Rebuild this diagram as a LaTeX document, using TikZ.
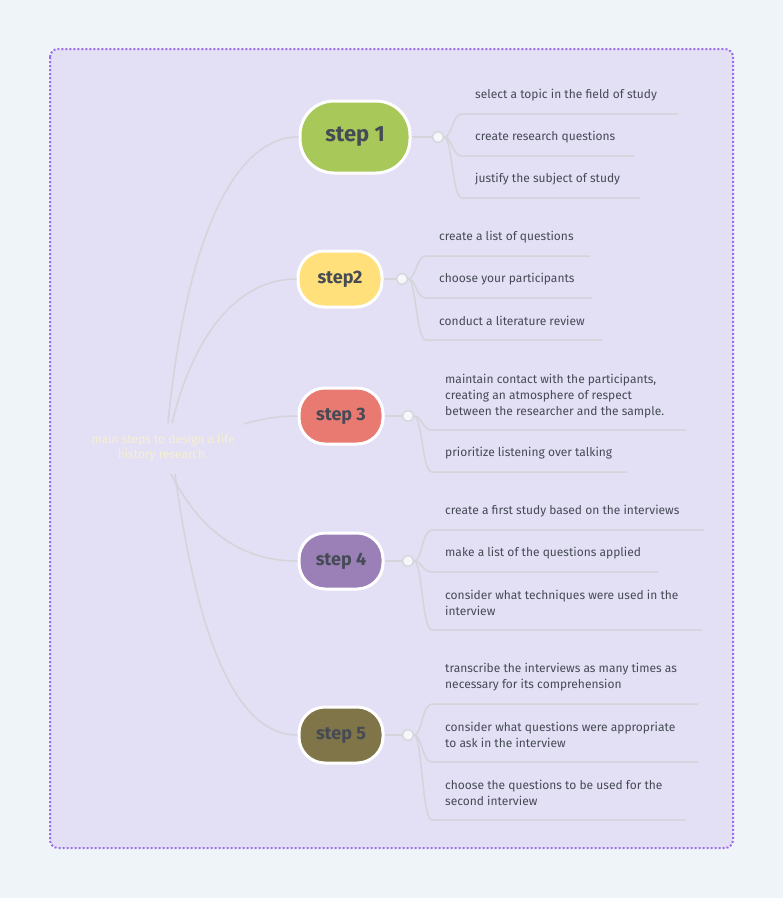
\documentclass[tikz,border=0pt]{standalone}
\usepackage{fontspec}
\setmainfont{Fira Sans}
\definecolor{pagebg}{HTML}{EFF4F8}
\definecolor{framebg}{HTML}{E3DFF5}
\definecolor{framedot}{HTML}{9C6FE8}
\definecolor{linec}{HTML}{D3D5DA}
\definecolor{txt}{HTML}{454A55}
\definecolor{cA}{HTML}{A8C95A}
\definecolor{cB}{HTML}{FFE07A}
\definecolor{cC}{HTML}{E87A72}
\definecolor{cD}{HTML}{9B80B8}
\definecolor{cE}{HTML}{7F7548}
\definecolor{roottxt}{HTML}{F6F0D2}
\begin{document}
\begin{tikzpicture}[x=1pt,y=-1pt,
  stepbox/.style={draw=white,line width=3pt,rounded corners=26pt,text=txt,font=\bfseries\fontsize{18}{20}\selectfont,minimum width=84pt,minimum height=56pt,inner sep=0pt},
  leaf/.style={anchor=west,text=txt,font=\fontsize{12}{16}\selectfont,inner sep=0pt,align=left},
  conn/.style={draw=linec,line width=1.5pt},
  knob/.style={circle,draw=linec,fill=pagebg!60!white,line width=1.3pt,minimum size=11pt,inner sep=0pt}]
\fill[pagebg] (0,0) rectangle (783,898);
\useasboundingbox (0,0) rectangle (783,898);
\draw[framedot,fill=framebg,line width=2pt,dotted,rounded corners=8pt] (50,49) rectangle (733,848);
\node[text=roottxt,font=\fontsize{12}{15}\selectfont,align=center] (root) at (163,448) {main steps to design a life\\history research.};
\coordinate (ru1) at (168,423);\coordinate (ru2) at (172,423);
\coordinate (rd1) at (171,474);\coordinate (rd2) at (175,474);\coordinate (rm) at (244,424);
\node[stepbox,fill=cA,minimum width=110pt,minimum height=72pt,rounded corners=34pt,font=\bfseries\fontsize{22}{24}\selectfont] (s1) at (355,137) {step 1};
\node[stepbox,fill=cB] (s2) at (340,279) {step2};
\node[stepbox,fill=cC] (s3) at (341,416) {step 3};
\node[stepbox,fill=cD] (s4) at (341,561) {step 4};
\node[stepbox,fill=cE] (s5) at (341,735) {step 5};
\draw[conn] (ru1) .. controls (185,250) and (230,137) .. (s1.west);
\draw[conn] (ru2) .. controls (195,330) and (240,279) .. (s2.west);
\draw[conn] (rm) .. controls (265,418) and (280,416) .. (s3.west);
\draw[conn] (rd1) .. controls (205,540) and (250,561) .. (s4.west);
\draw[conn] (rd2) .. controls (195,620) and (230,735) .. (s5.west);
% knobs
\node[knob] (k1) at (438,137) {};
\node[knob] (k2) at (402,279) {};
\node[knob] (k3) at (408,416) {};
\node[knob] (k4) at (408,561) {};
\node[knob] (k5) at (408,735) {};
\draw[conn] (s1.east) -- (k1);\draw[conn] (s2.east) -- (k2);\draw[conn] (s3.east) -- (k3);
\draw[conn] (s4.east) -- (k4);\draw[conn] (s5.east) -- (k5);
% leaves: knob, name, text x, text y, underline y, right end, text
\newcommand{\leafitem}[7]{%
  \node[leaf] (#2) at (#3,#4) {#7};
  \coordinate (#2a) at (#3+5-18,#5);\coordinate (#2b) at (#6,#5);
  \draw[conn] (#1.east) .. controls ([xshift=8pt]#1.east |- #1) and ([xshift=-10pt]#2a) .. (#2a) -- (#2b);}
\leafitem{k1}{a1}{475}{95}{114}{678}{select a topic in the field of study}
\leafitem{k1}{a2}{475}{137}{156}{634}{create research questions}
\leafitem{k1}{a3}{475}{179}{198}{640}{justify the subject of study}
\leafitem{k2}{b1}{439}{237}{256}{590}{create a list of questions}
\leafitem{k2}{b2}{439}{279}{298}{592}{choose your participants}
\leafitem{k2}{b3}{439}{321}{340}{602}{conduct a literature review}
\leafitem{k3}{c1}{445}{396}{430}{686}{maintain contact with the participants,\\creating an atmosphere of respect\\between the researcher and the sample.}
\leafitem{k3}{c2}{445}{453}{472}{627}{prioritize listening over talking}
\leafitem{k4}{d1}{445}{511}{530}{704}{create a first study based on the interviews}
\leafitem{k4}{d2}{445}{553}{572}{658}{make a list of the questions applied}
\leafitem{k4}{d3}{445}{603}{630}{702}{consider what techniques were used in the\\interview}
\leafitem{k5}{e1}{445}{677}{704}{698}{transcribe the interviews as many times as\\necessary for its comprehension}
\leafitem{k5}{e2}{445}{735}{762}{698}{consider what questions were appropriate\\to ask in the interview}
\leafitem{k5}{e3}{445}{793}{820}{686}{choose the questions to be used for the\\second interview}
\end{tikzpicture}
\end{document}
